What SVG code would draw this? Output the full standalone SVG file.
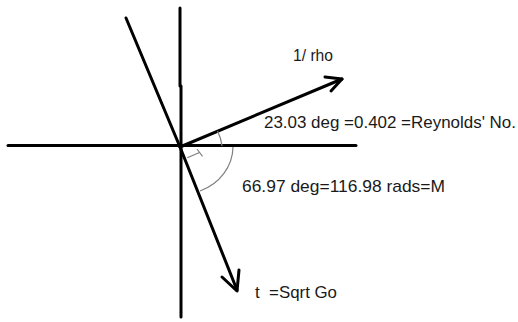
<svg xmlns="http://www.w3.org/2000/svg" width="518" height="322" viewBox="0 0 518 322">
  <style>
    .ax { stroke: #000; stroke-width: 3; fill: none; stroke-linecap: round; stroke-linejoin: round; }
    .thin { stroke: #7f7f7f; stroke-width: 1.2; fill: none; }
    .lbl { font-family: "Liberation Sans", Arial, sans-serif; font-size: 17px; fill: #1a1a1a; }
  </style>
  <rect width="518" height="322" fill="#fff"/>
  <g id="axes">
    <line class="ax" x1="180" y1="8" x2="180" y2="86"/>
    <line class="ax" x1="181" y1="86" x2="181" y2="317"/>
    <line class="ax" x1="8" y1="145.5" x2="356" y2="145.5"/>
  </g>
  <g id="connectors">
    <g id="rho-vector">
      <line class="ax" x1="180" y1="147" x2="342" y2="79"/>
      <polyline class="ax" points="325,77 342,79 331,91"/>
    </g>
    <g id="t-vector">
      <line class="ax" x1="126" y1="18" x2="180" y2="147"/>
      <line class="ax" x1="180" y1="147" x2="237" y2="290"/>
      <polyline class="ax" points="222,277 237,291 239,270"/>
    </g>
  </g>
  <g id="angle-marks">
    <path class="thin" d="M217.5 131 A41 41 0 0 1 222 146"/>
    <path class="thin" d="M233 147 A52 48 0 0 1 200 191"/>
    <line class="thin" x1="187.3" y1="157.7" x2="199.5" y2="152.5"/>
    <line class="thin" x1="197" y1="149" x2="202.5" y2="156.3"/>
  </g>
  <g id="labels">
    <text id="label-rho" class="lbl" x="293" y="61" textLength="40" lengthAdjust="spacingAndGlyphs">1/ rho</text>
    <text id="label-reynolds" class="lbl" x="264" y="127.5" textLength="252" lengthAdjust="spacingAndGlyphs">23.03 deg =0.402 =Reynolds' No.</text>
    <text id="label-m" class="lbl" x="242" y="191.5" textLength="203" lengthAdjust="spacingAndGlyphs">66.97 deg=116.98 rads=M</text>
    <text id="label-t" class="lbl" x="255" y="298.3" xml:space="preserve" style="white-space:pre" textLength="82" lengthAdjust="spacingAndGlyphs">t  =Sqrt Go</text>
  </g>
</svg>
